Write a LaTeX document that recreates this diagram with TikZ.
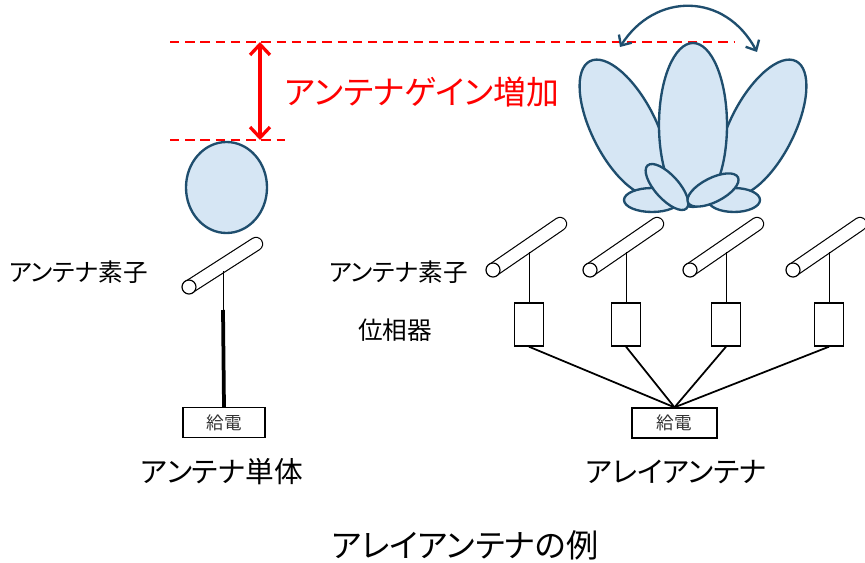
\documentclass[tikz,border=0pt]{standalone}
\usepackage{fontspec}
\setmainfont[RawFeature=+palt]{Noto Sans CJK JP}
\usetikzlibrary{arrows.meta}
\definecolor{lobefill}{HTML}{D6E6F4}
\definecolor{lobeline}{HTML}{1F4E6E}
\definecolor{gainred}{HTML}{FF0000}

\begin{document}
\begin{tikzpicture}[
  x=0.03cm, y=-0.03cm,
  lobe/.style={draw=lobeline, fill=lobefill, line width=2pt},
  rod/.style={line width=1pt, double=white, double distance=0.36cm, line cap=round},
  rodend/.style={draw, fill=white, line width=1pt},
  stem/.style={line width=0.8pt},
  shifter/.style={draw, line width=1.2pt, minimum width=0.87cm, minimum height=1.29cm, inner sep=0pt},
  feedbox/.style={draw, line width=1.4pt, minimum height=0.89cm, inner sep=0pt,
    font=\fontsize{15}{17}\selectfont, text=black!80},
  feedline/.style={line width=1.5pt},
  gainline/.style={gainred, line width=2pt, dash pattern=on 8pt off 5pt},
  gainarrow/.style={gainred, line width=2.8pt, {Straight Barb[length=9pt,width=17pt]}-{Straight Barb[length=9pt,width=17pt]}},
  sweep/.style={lobeline, line width=2pt, {Straight Barb[length=7pt,width=13pt]}-{Straight Barb[length=7pt,width=13pt]}},
  lab/.style={font=\fontsize{21}{24}\selectfont},
  undercap/.style={font=\fontsize{24.5}{28}\selectfont}
]
\useasboundingbox (0,0) rectangle (865,563);

% ---- gain markers ----
\draw[gainline] (170,42) -- (735,42);
\draw[gainline] (170,140) -- (285,140);
\coordinate (gtop) at (260,42);
\coordinate (gbot) at (260,140);
\draw[gainarrow] (gtop) -- (gbot);
\node[anchor=west, text=gainred, font=\fontsize{28}{32}\selectfont] (gain) at (281,92)
  {アンテナゲイン増加};

% ---- single element ----
\draw[lobe] (226.5,187.5) ellipse [x radius=40.5, y radius=45.5];
\draw[rod] (189,287) -- ++(67,-43);
\draw[rodend] (189,287) circle [radius=7];
\coordinate (e0) at (223,271);
\coordinate (joint) at (223,310);
\node[feedbox, minimum width=2.46cm] (feed0) at (224,422.5) {給電};
\draw[stem] (e0) -- (joint);
\draw[line width=3.2pt] (joint) -- (feed0.north);
\node[lab, anchor=west] (elem0) at (5,272) {アンテナ素子};
\node[undercap] (single) at (222,472) {アンテナ単体};

% ---- array pattern ----
\draw[lobe, rotate around={27:(624,128)}] (624,128) ellipse [x radius=32, y radius=75];
\draw[lobe, rotate around={-27:(762,128)}] (762,128) ellipse [x radius=32, y radius=75];
\draw[lobe] (693,125) ellipse [x radius=34, y radius=82];
\draw[lobe] (652,200) ellipse [x radius=28, y radius=12];
\draw[lobe] (734,200) ellipse [x radius=26, y radius=12];
\draw[lobe, rotate around={-48:(667,187)}] (667,187) ellipse [x radius=29, y radius=12];
\draw[lobe, rotate around={27:(713,190)}] (713,190) ellipse [x radius=28, y radius=12];
\draw[sweep] (620,47) .. controls (655,-8) and (725,-8) .. (757,52);

% ---- array elements ----
\node[feedbox, minimum width=2.55cm] (feed1) at (674.5,423) {給電};
\foreach \cx/\i in {493/1,590/2,690/3,793/4} {
  \draw[rod] (\cx,270) -- ++(67,-46);
  \draw[rodend] (\cx,270) circle [radius=7];
  \coordinate (e\i) at (\cx+36,252);
  \node[shifter] (ps\i) at (\cx+36,324.5) {};
  \draw[stem] (e\i) -- (ps\i.north);
  \draw[feedline] (ps\i.south) -- (feed1.north);
}
\node[lab, anchor=west] (elem1) at (325,272) {アンテナ素子};
\node[lab] (shift) at (395,330) {位相器};
\node[undercap] (array) at (676,472) {アレイアンテナ};

\node[font=\fontsize{27.5}{31}\selectfont] (title) at (465,545) {アレイアンテナの例};
\end{tikzpicture}
\end{document}
